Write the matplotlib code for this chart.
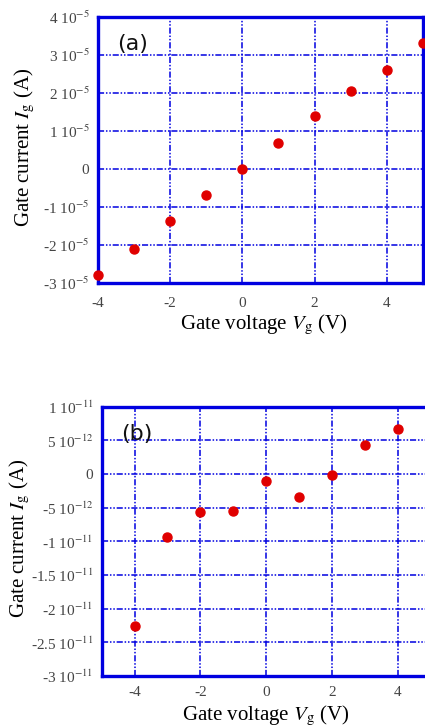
import numpy as np
import matplotlib.pyplot as plt
from matplotlib.ticker import FuncFormatter

# panel (a)
vg_a = [-4, -3, -2, -1, 0, 1, 2, 3, 4, 5]
ig_a = [-2.8e-5, -2.1e-5, -1.38e-5, -0.70e-5, 0.0, 0.68e-5, 1.39e-5, 2.05e-5, 2.6e-5, 3.32e-5]
yticks_a = [-3e-5, -2e-5, -1e-5, 0, 1e-5, 2e-5, 3e-5, 4e-5]

# panel (b)
vg_b = [-4, -3, -2, -1, 0, 1, 2, 3, 4]
ig_b = [-2.26e-11, -0.93e-11, -0.56e-11, -0.545e-11, -0.10e-11, -0.34e-11, -0.02e-11, 0.43e-11, 0.67e-11]
yticks_b = [-3e-11, -2.5e-11, -2e-11, -1.5e-11, -1e-11, -5e-12, 0, 5e-12, 1e-11]

xticks = [-4, -2, 0, 2, 4]

plt.rcParams['font.family'] = 'Liberation Serif'
plt.rcParams['mathtext.fontset'] = 'stix'
plt.rcParams['axes.unicode_minus'] = False

blue = '#0000e0'
grid_ls = (0, (4, 1.2, 1, 1.2, 1, 1.2))


def sci(v, pos):
    if v == 0:
        return '0'
    e = int(np.floor(np.log10(abs(v)) + 1e-9))
    m = v / 10**e
    return ('%g' % round(m, 2)) + ' 10$^{%d}$' % e


def setup(ax, yticks, label, xl_xy, yl_xy, xpad):
    ax.set_yticks(yticks)
    ax.yaxis.set_major_formatter(FuncFormatter(sci))
    ax.set_xticks(xticks)
    ax.grid(True, color=blue, linestyle=grid_ls, linewidth=1.1)
    for s in ax.spines.values():
        s.set_color(blue)
        s.set_linewidth(2.4)
    ax.tick_params(direction='in', length=0, labelsize=11, colors='#444444')
    ax.tick_params(axis='x', pad=xpad)
    ax.tick_params(axis='y', pad=6)
    ax.set_xlabel('Gate voltage $\\mathit{V}_{\\mathrm{g}}$ (V)', fontsize=15, color='black', va='top')
    ax.xaxis.set_label_coords(*xl_xy)
    ax.set_ylabel('Gate current $\\mathit{I}_{\\mathrm{g}}$ (A)', fontsize=15, color='black', va='center')
    ax.yaxis.set_label_coords(*yl_xy)
    ax.text(0.06, 0.9, label, transform=ax.transAxes, fontsize=16,
            family='DejaVu Sans', color='#111111', va='center')


fig = plt.figure(figsize=(4.25, 7.28), dpi=100)

ax1 = fig.add_axes([0.2299, 0.6117, 0.7655, 0.3649])
ax1.plot(vg_a, ig_a, 'o', color='#e00000', ms=6.5, clip_on=False, zorder=5)
ax1.set_xlim(-4, 5)
ax1.set_ylim(-3e-5, 4e-5)
setup(ax1, yticks_a, '(a)', (0.51, -0.115), (-0.225, 0.51), 10)

ax2 = fig.add_axes([0.2393, 0.0714, 0.774, 0.3699])
ax2.plot(vg_b, ig_b, 'o', color='#e00000', ms=6.5, zorder=5)
ax2.set_xlim(-5, 5)
ax2.set_ylim(-3e-11, 1e-11)
setup(ax2, yticks_b, '(b)', (0.5, -0.105), (-0.25, 0.512), 7)

fig.savefig('out.png', dpi=100)
